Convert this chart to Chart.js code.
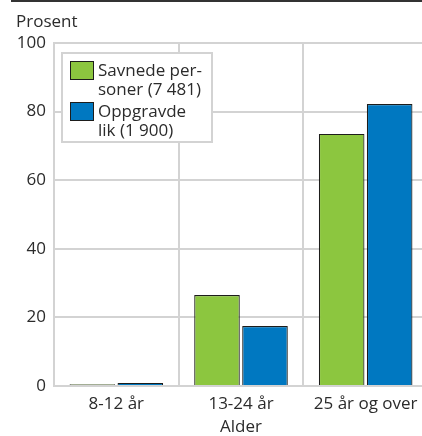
<!DOCTYPE html>
<html>
<head>
<meta charset="utf-8">
<script src="https://cdn.jsdelivr.net/npm/chart.js@4"></script>
<style>
  html, body { margin: 0; padding: 0; background: #fff; overflow: hidden; }
  #wrap { position: relative; width: 428px; height: 436px; }
</style>
</head>
<body>
<div id="wrap"><canvas id="c"></canvas></div>
<script>
const categories = ['8-12 år', '13-24 år', '25 år og over'];
const seriesNames = [['Savnede per-', 'soner (7 481)'], ['Oppgravde', 'lik (1 900)']];
const savnede = [0.5, 26.5, 73.5];
const oppgravde = [0.9, 17.5, 82.2];
const yTicks = [0, 20, 40, 60, 80, 100];
const yAxisLabel = 'Prosent';
const xAxisLabel = 'Alder';

const colors = ['#8cc63f', '#0078c1'];
const FONT = '"Open Sans", "Noto Sans", sans-serif';
const TEXT = '#2b2b2b';
const GRID = '#d3d3d3';

const decorPlugin = {
  id: 'decor',
  afterDraw(chart) {
    const ctx = chart.ctx;
    const ca = chart.chartArea;
    ctx.save();
    // top rule
    ctx.strokeStyle = '#333333';
    ctx.lineWidth = 2;
    ctx.beginPath();
    ctx.moveTo(11, 1);
    ctx.lineTo(chart.width, 1);
    ctx.stroke();
    // axis unit label
    ctx.fillStyle = TEXT;
    ctx.font = '17px ' + FONT;
    ctx.textBaseline = 'alphabetic';
    ctx.textAlign = 'left';
    ctx.fillText(yAxisLabel, 16, 27);
    // legend box
    const bx = ca.left + 8, by = ca.top + 10, bw = 150, bh = 89;
    ctx.fillStyle = '#ffffff';
    ctx.fillRect(bx, by, bw, bh);
    ctx.strokeStyle = GRID;
    ctx.lineWidth = 2;
    ctx.strokeRect(bx, by, bw, bh);
    const entryTops = [by + 8, by + 49];
    seriesNames.forEach((lines, i) => {
      const sy = entryTops[i];
      ctx.fillStyle = colors[i];
      ctx.fillRect(bx + 8, sy, 24, 19);
      ctx.strokeStyle = '#1d1d1b';
      ctx.lineWidth = 1;
      ctx.strokeRect(bx + 8.5, sy + 0.5, 23, 18);
      ctx.fillStyle = TEXT;
      ctx.font = '17px ' + FONT;
      lines.forEach((t, j) => {
        ctx.fillText(t, bx + 36, sy + 15 + j * 19);
      });
    });
    ctx.restore();
  }
};

new Chart(document.getElementById('c'), {
  type: 'bar',
  data: {
    labels: categories,
    datasets: [
      { label: seriesNames[0].join(' '), data: savnede, backgroundColor: colors[0], borderColor: '#1d1d1b', borderWidth: 1.2 },
      { label: seriesNames[1].join(' '), data: oppgravde, backgroundColor: colors[1], borderColor: '#1d1d1b', borderWidth: 1.2 }
    ]
  },
  options: {
    responsive: true,
    maintainAspectRatio: false,
    animation: false,
    layout: { padding: { left: 10, top: 43, right: 0, bottom: 0 } },
    datasets: { bar: { categoryPercentage: 0.77, barPercentage: 0.95 } },
    plugins: { legend: { display: false }, tooltip: { enabled: false }, title: { display: false } },
    scales: {
      x: {
        grid: { color: GRID, lineWidth: 2, drawTicks: false, offset: true },
        border: { color: GRID, width: 2 },
        ticks: { color: TEXT, font: { family: FONT, size: 17 }, padding: 8, maxRotation: 0, autoSkip: false },
        title: { display: true, text: xAxisLabel, color: TEXT, font: { family: FONT, size: 17, lineHeight: 1.0 }, padding: { top: 0, bottom: 0 } },
        afterFit(s) { s.height = 50; }
      },
      y: {
        min: 0, max: 100,
        afterBuildTicks(s) { s.ticks = yTicks.map(v => ({ value: v })); },
        grid: { color: GRID, lineWidth: 2, drawTicks: false },
        border: { color: GRID, width: 2 },
        ticks: { color: TEXT, font: { family: FONT, size: 17 }, padding: 8 },
        afterFit(s) { s.width = 44; }
      }
    }
  },
  plugins: [decorPlugin]
});
</script>
</body>
</html>
